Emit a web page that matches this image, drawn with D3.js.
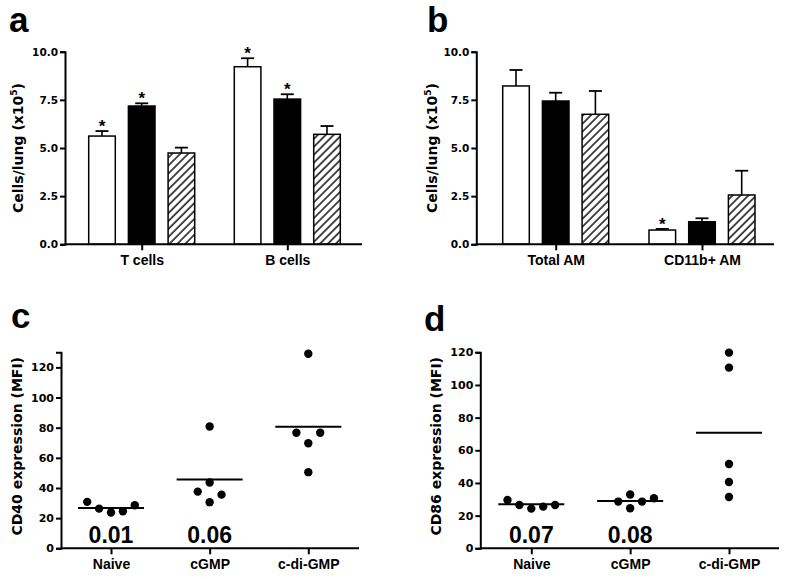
<!DOCTYPE html>
<html><head><meta charset="utf-8">
<script src="https://cdn.jsdelivr.net/npm/d3@7"></script>
<style>body{margin:0;background:#fff}svg{display:block}text{font-family:"Liberation Sans",Arial,sans-serif;font-weight:bold}</style>
</head><body>
<svg id="c" width="786" height="579"></svg>
<script>
// ---- data ----
const seriesNames = ["white", "black", "hatched"];
const groupsA = ["T cells", "B cells"];
const meansA = [[5.62, 7.18, 4.74], [9.22, 7.54, 5.71]];
const errA   = [[0.26, 0.14, 0.28], [0.44, 0.25, 0.43]];
const starA  = [[true, true, false], [true, true, false]];
const groupsB = ["Total AM", "CD11b+ AM"];
const meansB = [[8.22, 7.44, 6.75], [0.74, 1.17, 2.56]];
const errB   = [[0.83, 0.43, 1.21], [0.06, 0.18, 1.26]];
const starB  = [[false, false, false], [true, false, false]];
const barTicks = [0, 2.5, 5, 7.5, 10];

const catsCD = ["Naive", "cGMP", "c-di-GMP"];
const cd40 = [[30.8, 26.3, 23.7, 24.6, 28.6], [80.8, 37.6, 43.6, 30.6, 35.6], [129, 76.6, 76.6, 69.7, 50.5]];
const cd40Mean = [26.7, 45.7, 80.7];
const cd40P = ["0.01", "0.06", ""];
const cd86 = [[29.6, 26.5, 24.3, 25.5, 26.5], [28.6, 32.9, 24.5, 28.6, 30.6], [119.8, 110.6, 51.6, 40.6, 31.4]];
const cd86Mean = [26.9, 29.0, 70.8];
const cd86P = ["0.07", "0.08", ""];
const ticksCD = [0, 20, 40, 60, 80, 100, 120];

const FONT = '"Liberation Sans", Arial, sans-serif';
const WIDE = '"DejaVu Sans", sans-serif';
const svg = d3.select("#c");
const defs = svg.append("defs");
const pat = defs.append("pattern").attr("id", "hatch").attr("patternUnits", "userSpaceOnUse")
  .attr("width", 5.6).attr("height", 5.6).attr("patternTransform", "rotate(45)");
pat.append("rect").attr("width", 5.6).attr("height", 5.6).attr("fill", "#fff");
pat.append("line").attr("x1", 1).attr("x2", 1).attr("y1", 0).attr("y2", 5.6).attr("stroke", "#000").attr("stroke-width", 1.4);

function letter(t, x, y) {
  svg.append("text").attr("x", x).attr("y", y).attr("font-size", 35).attr("fill", "#000").text(t);
}

function styleAxis(a, fs, fam) {
  a.attr("font-family", fam || FONT).attr("font-size", fs).attr("font-weight", "bold");
  a.selectAll("text").style("font-family", fam || FONT);
  a.selectAll(".tick line").attr("stroke-width", 2);
  a.selectAll("text").attr("fill", "#000");
}

function barPanel(o) {
  const g = svg.append("g");
  const y = d3.scaleLinear().domain([0, 10]).range([o.y0, o.y1]);
  const x = d3.scalePoint().domain(o.groups).range(o.centers);
  const inner = d3.scaleBand().domain(seriesNames).range([-53, 53]).paddingInner(0.33);
  const bw = inner.bandwidth();
  const ya = g.append("g").attr("transform", `translate(${o.ax},0)`)
    .call(d3.axisLeft(y).tickValues(barTicks).tickFormat(d3.format(".1f")).tickSizeOuter(0).tickSize(5).tickPadding(2));
  ya.select(".domain").attr("stroke-width", 2);
  styleAxis(ya, 10.5, WIDE);
  o.groups.forEach((grp, gi) => {
    seriesNames.forEach((s, si) => {
      const x0 = x(grp) + inner(s);
      const v = o.means[gi][si], e = o.errs[gi][si];
      g.append("line").attr("x1", x0 + bw / 2).attr("x2", x0 + bw / 2).attr("y1", y(v)).attr("y2", y(v + e)).attr("stroke", "#000").attr("stroke-width", 1.6);
      g.append("line").attr("x1", x0 + bw / 2 - 6.5).attr("x2", x0 + bw / 2 + 6.5).attr("y1", y(v + e)).attr("y2", y(v + e)).attr("stroke", "#000").attr("stroke-width", 1.8);
      g.append("rect").attr("x", x0).attr("width", bw).attr("y", y(v)).attr("height", y(0) - y(v))
        .attr("fill", s === "white" ? "#fff" : s === "black" ? "#000" : "url(#hatch)")
        .attr("stroke", "#000").attr("stroke-width", 1.5);
      if (o.stars[gi][si]) {
        g.append("text").attr("x", x0 + bw / 2).attr("y", y(v + e) + 1).attr("text-anchor", "middle")
          .attr("font-size", 17).text("*");
      }
    });
  });
  const xa = g.append("g").attr("transform", `translate(0,${o.y0})`)
    .call(d3.axisBottom(x).tickSize(6).tickSizeOuter(0).tickPadding(5));
  xa.select(".domain").remove();
  styleAxis(xa, 14);
  g.append("line").attr("x1", o.ax).attr("x2", o.axEnd).attr("y1", o.y0).attr("y2", o.y0).attr("stroke", "#000").attr("stroke-width", 2);
  const t = g.append("text").attr("transform", `translate(${o.tx},${(o.y0 + o.y1) / 2}) rotate(-90)`)
    .attr("text-anchor", "middle").attr("font-size", 14).style("font-family", WIDE);
  t.append("tspan").text("Cells/lung (x10");
  t.append("tspan").attr("font-size", 9).attr("dy", -6).text("5");
  t.append("tspan").attr("dy", 6).text(")");
}

function dotPanel(o) {
  const g = svg.append("g");
  const y = d3.scaleLinear().domain([0, o.max]).range([o.y0, o.yTop]);
  const x = d3.scalePoint().domain(catsCD).range(o.centers);
  const ya = g.append("g").attr("transform", `translate(${o.ax},0)`)
    .call(d3.axisLeft(y).tickValues(ticksCD).tickSizeOuter(0).tickSize(5).tickPadding(2));
  ya.select(".domain").attr("stroke-width", 2);
  styleAxis(ya, 11, WIDE);
  const xa = g.append("g").attr("transform", `translate(0,${o.y0})`)
    .call(d3.axisBottom(x).tickSize(6).tickSizeOuter(0).tickPadding(5));
  xa.select(".domain").remove();
  styleAxis(xa, 14);
  g.append("line").attr("x1", o.ax).attr("x2", o.axEnd).attr("y1", o.y0).attr("y2", o.y0).attr("stroke", "#000").attr("stroke-width", 2);
  catsCD.forEach((c, ci) => {
    const cx = x(c);
    const vals = o.data[ci];
    const offsets = o.offsets[ci];
    vals.forEach((v, i) => {
      g.append("circle").attr("cx", cx + offsets[i]).attr("cy", y(v)).attr("r", 4.2).attr("fill", "#000");
    });
    g.append("line").attr("x1", cx - 33).attr("x2", cx + 33).attr("y1", y(o.mean[ci])).attr("y2", y(o.mean[ci]))
      .attr("stroke", "#000").attr("stroke-width", 2);
    if (o.p[ci]) {
      g.append("text").attr("x", cx).attr("y", o.y0 - 5).attr("text-anchor", "middle").attr("font-size", 23).text(o.p[ci]);
    }
  });
  g.append("text").attr("transform", `translate(${o.tx},${(o.y0 + o.yTop) / 2 - 4}) rotate(-90)`)
    .attr("text-anchor", "middle").attr("font-size", 14).style("font-family", WIDE).text(o.title);
}

letter("a", 9, 32);
letter("b", 427, 32);
letter("c", 11, 328);
letter("d", 424, 331);

barPanel({groups: groupsA, means: meansA, errs: errA, stars: starA, y0: 244.3, y1: 51.7,
  centers: [141.7, 287.3], ax: 65, axEnd: 362, tx: 23});
barPanel({groups: groupsB, means: meansB, errs: errB, stars: starB, y0: 244.3, y1: 51.7,
  centers: [555.7, 702], ax: 476.3, axEnd: 774, tx: 437});

const u = 11.9;
dotPanel({data: cd40, mean: cd40Mean, p: cd40P, max: 130, y0: 548.3, yTop: 352.3, centers: [111, 308.3],
  ax: 61, axEnd: 359, tx: 22, title: "CD40 expression (MFI)",
  offsets: [[-2*u, -u, 0, u, 2*u], [0, -u, 0, 0, u], [0, -u, u, 0, 0]]});
dotPanel({data: cd86, mean: cd86Mean, p: cd86P, max: 120, y0: 548.3, yTop: 352.3, centers: [531.3, 729],
  ax: 480.3, axEnd: 779, tx: 441, title: "CD86 expression (MFI)",
  offsets: [[-2*u, -u, 0, u, 2*u], [-u, 0, 0, u, 2*u], [0, 0, 0, 0, 0]]});
</script>
</body></html>
